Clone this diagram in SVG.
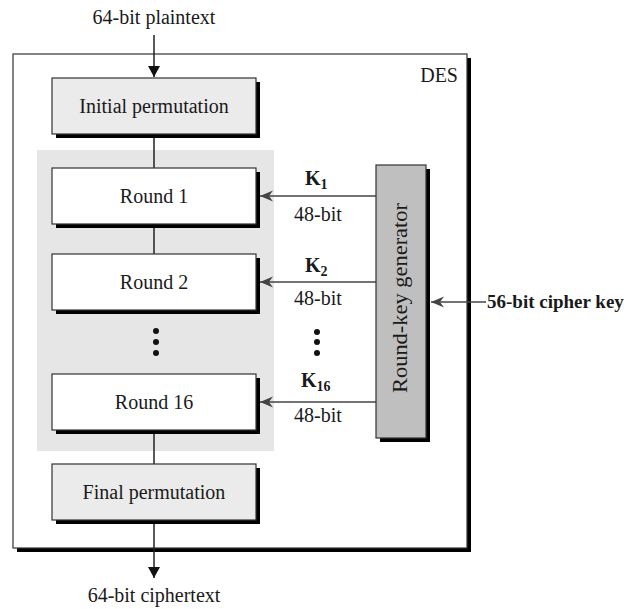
<svg xmlns="http://www.w3.org/2000/svg" width="628" height="609" viewBox="0 0 628 609">
<defs>
<style>
text{font-family:"Liberation Serif","Times New Roman",serif;font-size:20px;fill:#1a1a1a}
.c{text-anchor:middle}
.b{font-weight:bold}
.sub{font-size:14px;font-weight:bold}
.box{stroke:#333;stroke-width:1.2}
.sh{fill:#000}
.ln{stroke:#222;stroke-width:1.5;fill:none}
.kl{stroke:#444;stroke-width:1.5;fill:none}
</style>
<marker id="ah" markerWidth="12" markerHeight="12" refX="11" refY="6" orient="auto" markerUnits="userSpaceOnUse">
<path d="M0,0 L11,6 L0,12 Z" fill="#111"/>
</marker>
<marker id="ak" markerWidth="14" markerHeight="12" refX="13" refY="6" orient="auto" markerUnits="userSpaceOnUse">
<path d="M0,0.5 L13,6 L0,11.5 L4,6 Z" fill="#444"/>
</marker>
</defs>
<rect width="628" height="609" fill="#fff"/>

<g id="des">
<rect class="sh" x="17" y="58" width="454" height="494"/>
<rect class="box" x="13" y="54" width="454" height="494" fill="#fff"/>
<text x="458" y="82" text-anchor="end">DES</text>
</g>

<g id="rounds-area">
<rect x="37" y="150" width="237" height="301" fill="#e6e6e6"/>
</g>

<g id="connectors">
<line class="ln" x1="154" y1="35" x2="154" y2="77" marker-end="url(#ah)"/>
<line class="ln" x1="154" y1="134" x2="154" y2="168"/>
<line class="ln" x1="154" y1="224" x2="154" y2="254"/>
<line class="ln" x1="154" y1="430" x2="154" y2="464"/>
<line class="ln" x1="154" y1="520" x2="154" y2="578" marker-end="url(#ah)"/>
<line class="kl" x1="376" y1="196" x2="260" y2="196" marker-end="url(#ak)"/>
<line class="kl" x1="376" y1="282" x2="260" y2="282" marker-end="url(#ak)"/>
<line class="kl" x1="376" y1="402" x2="260" y2="402" marker-end="url(#ak)"/>
<line class="kl" x1="486" y1="302" x2="431" y2="302" marker-end="url(#ak)"/>
</g>

<g id="initial-permutation">
<rect class="sh" x="56" y="82" width="204" height="56"/>
<rect class="box" x="52" y="78" width="204" height="56" fill="#ebebeb"/>
<text class="c" x="154" y="113">Initial permutation</text>
</g>

<g id="round1">
<rect class="sh" x="56" y="172" width="204" height="56"/>
<rect class="box" x="52" y="168" width="204" height="56" fill="#fff"/>
<text class="c" x="154" y="203">Round 1</text>
</g>

<g id="round2">
<rect class="sh" x="56" y="258" width="204" height="56"/>
<rect class="box" x="52" y="254" width="204" height="56" fill="#fff"/>
<text class="c" x="154" y="289">Round 2</text>
</g>

<g id="round-dots">
<circle cx="156" cy="331" r="3" fill="#111"/>
<circle cx="156" cy="342" r="3" fill="#111"/>
<circle cx="156" cy="353" r="3" fill="#111"/>
</g>

<g id="round16">
<rect class="sh" x="56" y="378" width="204" height="56"/>
<rect class="box" x="52" y="374" width="204" height="56" fill="#fff"/>
<text class="c" x="154" y="409">Round 16</text>
</g>

<g id="final-permutation">
<rect class="sh" x="56" y="468" width="204" height="56"/>
<rect class="box" x="52" y="464" width="204" height="56" fill="#ebebeb"/>
<text class="c" x="154" y="499">Final permutation</text>
</g>

<g id="round-key-generator">
<rect class="sh" x="380" y="169" width="50" height="273"/>
<rect class="box" x="376" y="165" width="50" height="273" fill="#bfbfbf"/>
<text class="c" transform="translate(407,298) rotate(-90)" textLength="190" lengthAdjust="spacingAndGlyphs">Round-key generator</text>
</g>

<g id="key-labels">
<text class="b" x="305" y="185">K<tspan class="sub" dy="4">1</tspan></text>
<text class="c" x="318" y="221">48-bit</text>
<text class="b" x="305" y="272">K<tspan class="sub" dy="4">2</tspan></text>
<text class="c" x="318" y="305">48-bit</text>
<text class="b" x="301" y="387">K<tspan class="sub" dy="4">16</tspan></text>
<text class="c" x="318" y="422">48-bit</text>
<circle cx="317" cy="332" r="3" fill="#111"/>
<circle cx="317" cy="342" r="3" fill="#111"/>
<circle cx="317" cy="353" r="3" fill="#111"/>
</g>

<g id="io-labels">
<text class="c" x="154" y="24">64-bit plaintext</text>
<text class="c" x="154" y="602">64-bit ciphertext</text>
<text class="b" x="487" y="308" style="font-size:19px">56-bit cipher key</text>
</g>
</svg>
